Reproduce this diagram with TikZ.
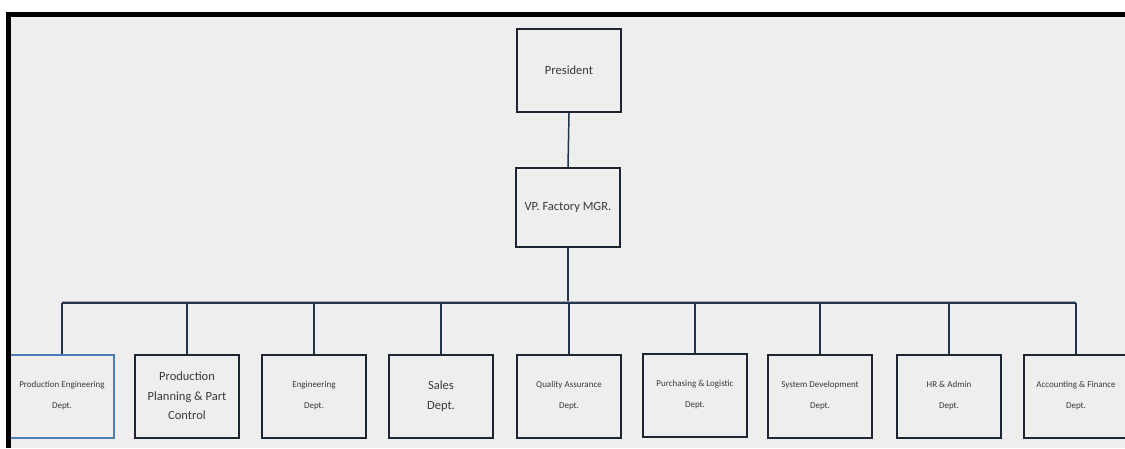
\documentclass[tikz,border=0pt]{standalone}
\usepackage{fontspec}
\setmainfont{Carlito}
\definecolor{pagebg}{HTML}{EEEEEE}
\definecolor{boxline}{HTML}{1E2633}
\definecolor{blueline}{HTML}{4A7EBB}
\definecolor{wire}{HTML}{24324A}
\definecolor{txt}{HTML}{3A3A3A}
\tikzset{
  orgbox/.style={draw=boxline, line width=2pt, fill=pagebg, minimum width=104pt,
    minimum height=83pt, align=center, text=txt, inner sep=0pt},
  bigtxt/.style={font=\fontsize{12.5}{19.5}\selectfont},
  smalltxt/.style={font=\fontsize{9}{21}\selectfont},
  wireline/.style={draw=wire, line width=1.5pt},
}
\begin{document}
\begin{tikzpicture}[x=1pt,y=-1pt]
\useasboundingbox (0,0) rectangle (1125,448);
\clip (0,0) rectangle (1125,448);
\fill[white] (0,0) rectangle (1125,448);
\fill[pagebg] (11,17) rectangle (1125,448);

% top level
\node[orgbox, bigtxt] (pres) at (569,70.5) {President};
\node[orgbox, bigtxt, minimum height=79pt] (vp) at (568,207.5) {VP. Factory MGR.};

% departments
\node[orgbox, smalltxt, draw=blueline] (b1) at (62,396) {Production Engineering\\Dept.};
\node[orgbox, bigtxt] (b2) at (187,396) {Production\\Planning \& Part\\Control};
\node[orgbox, smalltxt] (b3) at (314,396) {Engineering\\Dept.};
\node[orgbox, bigtxt] (b4) at (441,396) {Sales\\Dept.};
\node[orgbox, smalltxt] (b5) at (569,396) {Quality Assurance\\Dept.};
\node[orgbox, smalltxt] (b6) at (695,395) {Purchasing \& Logistic\\Dept.};
\node[orgbox, smalltxt] (b7) at (820,396) {System Development\\Dept.};
\node[orgbox, smalltxt] (b8) at (949,396) {HR \& Admin\\Dept.};
\node[orgbox, smalltxt] (b9) at (1076,396) {Accounting \& Finance\\Dept.};

% connectors
\coordinate (bus) at (568,303);
\draw[wireline] (pres.south) -- (vp.north);
\draw[wireline] (vp.south) -- (bus);
\draw[draw=wire!40, line width=2pt] ([yshift=1.5pt]b1.north |- bus) -- ([yshift=1.5pt]b9.north |- bus);
\draw[wireline, line width=2.2pt] (b1.north |- bus) -- (b9.north |- bus);
\foreach \i in {1,...,9}{
  \draw[wireline] (b\i.north |- bus) -- (b\i.north);
}

% page frame
\fill[black] (6,12) rectangle (1125,17);
\fill[black] (6,12) rectangle (11,448);
\end{tikzpicture}
\end{document}
